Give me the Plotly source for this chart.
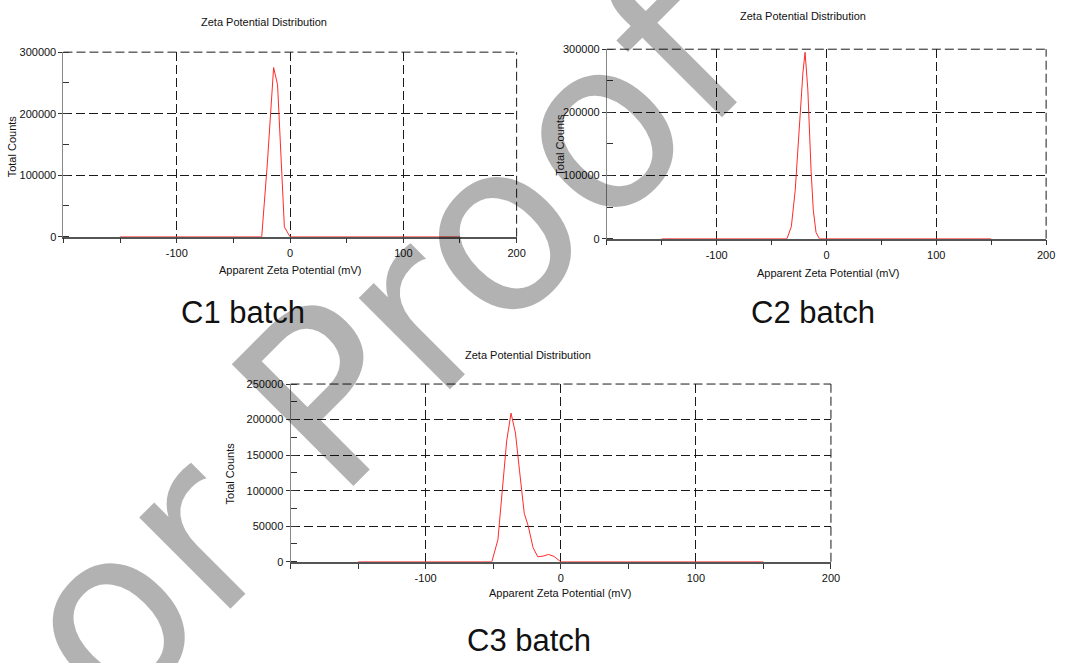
import plotly.graph_objects as go

# ---- data: apparent zeta potential (mV) vs total counts ----
c1_mv = [-150, -25, -20, -17, -14.5, -11, -5, 0, 150]
c1_counts = [0, 0, 120000, 205000, 275000, 247000, 16000, 0, 0]

c2_mv = [-150, -36, -32, -28.5, -24, -21.5, -19.5, -17, -14, -12, -9.5, -6.5, 150]
c2_counts = [0, 0, 19000, 76000, 195000, 262000, 295000, 237000, 107000, 45000, 10000, 0, 0]

c3_mv = [-150, -51, -46.5, -43.5, -40, -36.8, -33.5, -30.5, -27, -24, -20.5, -17,
         -13, -9, -5, 0, 150]
c3_counts = [0, 0, 31000, 96000, 170000, 209000, 181000, 128000, 68000, 50000,
             20000, 7000, 8000, 10300, 7500, 0, 0]

batches = ["C1 batch", "C2 batch", "C3 batch"]
x_ticks = [-200, -100, 0, 100, 200]
x_ticktext = ["", "-100", "0", "100", "200"]
y_ticks_300k = [0, 100000, 200000, 300000]
y_ticks_250k = [0, 50000, 100000, 150000, 200000, 250000]

W, H = 1068, 663
FONT = "Liberation Sans, Arial, sans-serif"
DASH = "9px,4px"

# plot boxes in pixels: left, right, top, bottom
boxes = [(64, 521, 47, 235), (612, 1055, 44, 237), (293, 838, 385, 566)]


def px_x(v):
    return v / W


def px_y(v):
    return 1 - v / H


fig = go.Figure()

series = [(c1_mv, c1_counts), (c2_mv, c2_counts), (c3_mv, c3_counts)]
for i, (xs, ys) in enumerate(series):
    sfx = "" if i == 0 else str(i + 1)
    fig.add_trace(go.Scatter(
        x=xs, y=ys, mode="lines", xaxis="x" + sfx, yaxis="y" + sfx,
        line=dict(color="#ff2a2a", width=1), cliponaxis=False,
        showlegend=False, hoverinfo="x+y"))

grid = dict(showgrid=True, gridcolor="#1a1a1a", gridwidth=1, griddash=DASH)

layout = dict(width=W, height=H, margin=dict(l=0, r=0, t=0, b=0),
              paper_bgcolor="white", plot_bgcolor="white",
              font=dict(family=FONT, size=11, color="#111"))

y_sets = [(y_ticks_300k, 300000, 50000), (y_ticks_300k, 300000, 50000),
          (y_ticks_250k, 250000, 25000)]

shapes = []
for i, (l, r, t, b) in enumerate(boxes):
    sfx = "" if i == 0 else str(i + 1)
    yt, ymax, ymin_dt = y_sets[i]
    layout["xaxis" + sfx] = dict(
        domain=[px_x(l), px_x(r)], anchor="y" + sfx, range=[-200, 200],
        tickmode="array", tickvals=x_ticks, ticktext=x_ticktext,
        ticks="outside", ticklen=5, tickcolor="#333", tickwidth=1,
        minor=dict(tick0=0, dtick=50, ticks="outside", ticklen=5,
                   tickcolor="#333", showgrid=False),
        showline=True, linecolor="#555", linewidth=1.5, zeroline=False,
        layer="below traces", tickfont=dict(size=11, color="#111"),
        ticklabelstandoff=0, fixedrange=True, **grid)
    layout["yaxis" + sfx] = dict(
        domain=[px_y(b), px_y(t)], anchor="x" + sfx, range=[0, ymax],
        tickmode="array", tickvals=yt, ticktext=[str(v) for v in yt],
        ticks="outside", ticklen=4, tickcolor="#333",
        minor=dict(tick0=0, dtick=ymin_dt, ticks="inside", ticklen=6,
                   tickcolor="#333", showgrid=False),
        showline=True, linecolor="#888", linewidth=1, zeroline=False,
        tickfont=dict(size=11, color="#111"), fixedrange=True, **grid)
    # dashed frame on the top and right edges, same style as the grid
    xd, yd = "x" + sfx + " domain", "y" + sfx + " domain"
    edge = dict(type="line", xref=xd, yref=yd, layer="below",
                line=dict(color="#1a1a1a", width=1, dash=DASH))
    shapes.append(dict(edge, x0=0, x1=1, y0=1, y1=1))
    shapes.append(dict(edge, x0=1, x1=1, y0=0, y1=1))

annotations = []


def text(x, y, s, size, angle=0):
    annotations.append(dict(x=px_x(x), y=px_y(y), xref="paper", yref="paper",
                            text=s, showarrow=False, textangle=angle,
                            xanchor="center", yanchor="middle",
                            font=dict(family=FONT, size=size, color="#111")))


# faint diagonal watermark, listed first so the labels sit over it
annotations.append(dict(x=px_x(188), y=px_y(541), xref="paper", yref="paper",
                        text="Author Proof", showarrow=False, textangle=-45,
                        xanchor="center", yanchor="middle",
                        font=dict(family="DejaVu Sans", size=236,
                                  color="rgba(0,0,0,0.3)")))

titles = [(266, 16), (810, 10), (532, 355)]
xtitles = [(292, 269), (835, 272), (565, 598)]
ytitles = [(13, 143), (565, 141), (232, 476)]
labels = [(245, 312), (820, 312), (533, 646)]

for i in range(3):
    text(*titles[i], "Zeta Potential Distribution", 11)
    text(*xtitles[i], "Apparent Zeta Potential (mV)", 11)
    text(*ytitles[i], "Total Counts", 11, angle=-90)
    text(*labels[i], batches[i], 31)

layout["annotations"] = annotations
layout["shapes"] = shapes
fig.update_layout(**layout)
fig.write_html("out.html")
